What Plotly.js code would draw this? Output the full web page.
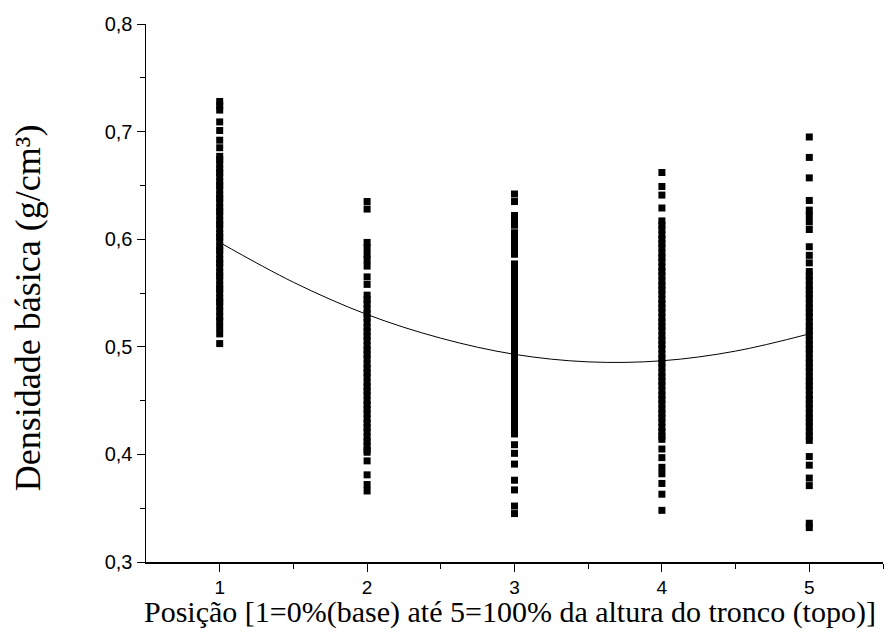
<!DOCTYPE html>
<html>
<head>
<meta charset="utf-8">
<script src="https://cdn.plot.ly/plotly-3.0.1.min.js"></script>
<style>html,body{margin:0;padding:0;background:#fff;}#chart{width:889px;height:636px;}</style>
</head>
<body>
<div id="chart"></div>
<script>
// Positions along the trunk
const positions = [1, 2, 3, 4, 5];

// Basic density readings (g/cm3) at each position
const densPos1 = [0.728, 0.724, 0.720, 0.709, 0.701, 0.692, 0.685,
  0.677, 0.674, 0.670, 0.665, 0.662, 0.658, 0.653, 0.650, 0.646, 0.641, 0.638, 0.634, 0.629, 0.626,
  0.622, 0.617, 0.614, 0.610, 0.605, 0.602, 0.598, 0.593, 0.590, 0.586, 0.581, 0.578, 0.574, 0.569,
  0.566, 0.562, 0.557, 0.554, 0.550, 0.545, 0.542, 0.538, 0.533, 0.528, 0.524, 0.518, 0.512, 0.503];

const densPos2 = [0.635, 0.628, 0.597, 0.592, 0.586, 0.581, 0.575, 0.565, 0.558,
  0.548, 0.544, 0.540, 0.535, 0.531, 0.527, 0.523, 0.518, 0.514, 0.510, 0.506, 0.501, 0.497, 0.493,
  0.489, 0.484, 0.480, 0.476, 0.472, 0.467, 0.463, 0.459, 0.455, 0.450, 0.446, 0.442, 0.438, 0.433,
  0.429, 0.425, 0.421, 0.416, 0.412, 0.408, 0.404, 0.402, 0.394, 0.381, 0.372, 0.366];

const densPos3 = [0.642, 0.635, 0.622, 0.617, 0.613, 0.606, 0.601, 0.596, 0.591, 0.586,
  0.577, 0.573, 0.569, 0.564, 0.560, 0.556, 0.552, 0.547, 0.543, 0.539, 0.535, 0.530, 0.526, 0.522,
  0.518, 0.513, 0.509, 0.505, 0.501, 0.496, 0.492, 0.488, 0.484, 0.479, 0.475, 0.471, 0.467, 0.462,
  0.458, 0.454, 0.450, 0.445, 0.441, 0.437, 0.433, 0.428, 0.424, 0.419,
  0.409, 0.401, 0.391, 0.376, 0.367, 0.352, 0.345];

const densPos4 = [0.662, 0.649, 0.641, 0.629,
  0.617, 0.613, 0.609, 0.604, 0.600, 0.596, 0.592, 0.587, 0.583, 0.579, 0.574, 0.570, 0.566, 0.561,
  0.557, 0.553, 0.549, 0.544, 0.540, 0.536, 0.532, 0.527, 0.523, 0.519, 0.515, 0.510, 0.506, 0.502,
  0.498, 0.493, 0.489, 0.485, 0.481, 0.476, 0.472, 0.468, 0.464, 0.459, 0.455, 0.451, 0.447, 0.442,
  0.438, 0.434, 0.430, 0.425, 0.421, 0.417, 0.414,
  0.405, 0.397, 0.388, 0.382, 0.373, 0.363, 0.348];

const densPos5 = [0.695, 0.676, 0.657, 0.636, 0.627, 0.622, 0.616, 0.609, 0.593, 0.585, 0.578,
  0.570, 0.566, 0.562, 0.557, 0.553, 0.549, 0.545, 0.540, 0.536, 0.532, 0.528, 0.523, 0.519, 0.515,
  0.511, 0.506, 0.502, 0.498, 0.494, 0.489, 0.485, 0.481, 0.477, 0.472, 0.468, 0.464, 0.460, 0.455,
  0.451, 0.447, 0.443, 0.438, 0.434, 0.430, 0.426, 0.421, 0.417, 0.413,
  0.398, 0.390, 0.378, 0.371, 0.336, 0.332];

// Fitted curve
const curveX = [1, 1.5, 2, 2.5, 3, 3.5, 4, 4.5, 5];
const curveY = [0.597, 0.560, 0.530, 0.508, 0.493, 0.486, 0.487, 0.496, 0.512];

// Tick labels
const xTickVals = [1, 2, 3, 4, 5];
const xTickText = ['1', '2', '3', '4', '5'];
const yTickVals = [0.3, 0.4, 0.5, 0.6, 0.7, 0.8];
const yTickText = ['0,3', '0,4', '0,5', '0,6', '0,7', '0,8'];

const xTitle = 'Posição [1=0%(base) até 5=100% da altura do tronco (topo)]';
const yTitle = 'Densidade básica (g/cm³)';

const groups = [densPos1, densPos2, densPos3, densPos4, densPos5];
const ptsX = [], ptsY = [];
groups.forEach((g, i) => g.forEach(v => { ptsX.push(positions[i]); ptsY.push(v); }));

const traces = [
  {
    x: ptsX, y: ptsY, type: 'scatter', mode: 'markers',
    marker: {symbol: 'square', size: 7, color: '#000', line: {width: 0}},
    hoverinfo: 'x+y', showlegend: false
  },
  {
    x: curveX, y: curveY, type: 'scatter', mode: 'lines',
    line: {color: '#000', width: 1, shape: 'spline'},
    showlegend: false
  }
];

const serif = 'Liberation Serif, Times New Roman, serif';
const sans = 'Liberation Sans, Arial, sans-serif';

const layout = {
  width: 889, height: 636, autosize: false,
  margin: {l: 146, r: 6, t: 24, b: 74, pad: 0},
  paper_bgcolor: '#fff', plot_bgcolor: '#fff',
  showlegend: false,
  xaxis: {
    range: [0.5, 5.5], tickvals: xTickVals, ticktext: xTickText,
    ticks: 'outside', ticklen: 8, tickwidth: 1, tickcolor: '#000',
    showline: true, linecolor: '#000', linewidth: 1.5,
    showgrid: false, zeroline: false,
    tickfont: {family: sans, size: 19, color: '#000'},
    minor: {tickvals: [1.5, 2.5, 3.5, 4.5, 5.5], ticks: 'outside', ticklen: 5, tickcolor: '#000', tickwidth: 1, showgrid: false}
  },
  yaxis: {
    range: [0.3, 0.8], tickvals: yTickVals, ticktext: yTickText,
    ticks: 'outside', ticklen: 8, tickwidth: 1, tickcolor: '#000',
    showline: true, linecolor: '#000', linewidth: 1.5,
    showgrid: false, zeroline: false,
    tickfont: {family: sans, size: 20, color: '#000'},
    minor: {tickvals: [0.35, 0.45, 0.55, 0.65, 0.75], ticks: 'outside', ticklen: 5, tickcolor: '#000', tickwidth: 1, showgrid: false}
  },
  annotations: [
    {text: xTitle, xref: 'paper', yref: 'paper', x: 0.494, y: -0.093,
     xanchor: 'center', yanchor: 'middle', showarrow: false,
     font: {family: serif, size: 30, color: '#000'}},
    {text: yTitle, xref: 'paper', yref: 'paper', x: -0.160, y: 0.472,
     xanchor: 'center', yanchor: 'middle', showarrow: false, textangle: -90,
     font: {family: serif, size: 36, color: '#000'}}
  ]
};

Plotly.newPlot('chart', traces, layout, {displayModeBar: false, staticPlot: true});
</script>
</body>
</html>
